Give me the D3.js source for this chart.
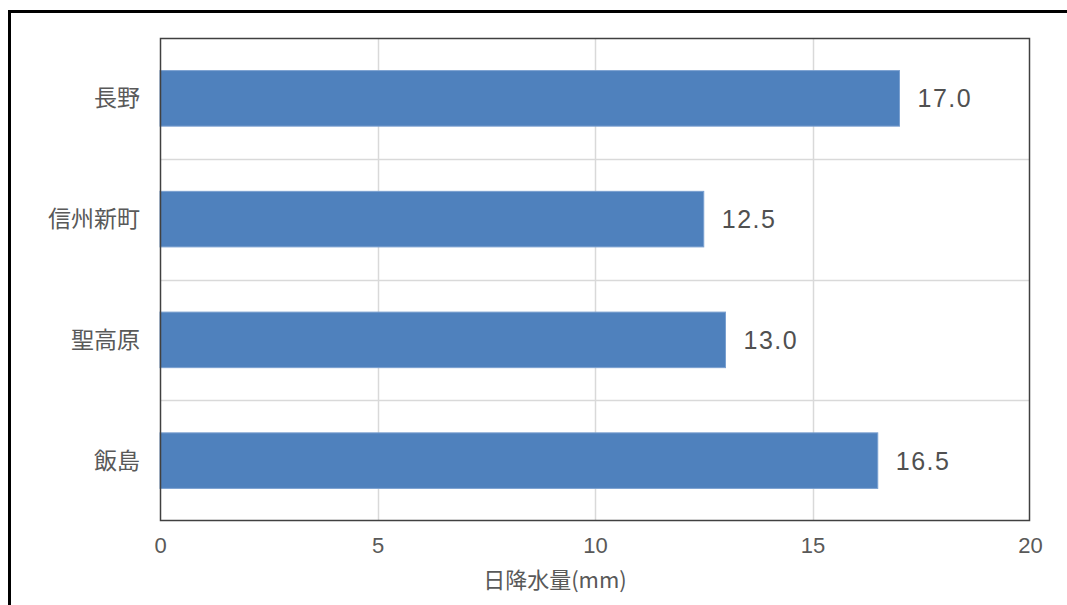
<!DOCTYPE html>
<html><head><meta charset="utf-8">
<script src="https://cdn.jsdelivr.net/npm/d3@7"></script>
<style>
html,body{margin:0;padding:0;background:#fff;}
svg{display:block;}
</style></head>
<body><svg id="chart" width="1067" height="605"></svg>
<script>
const categories = ["長野", "信州新町", "聖高原", "飯島"];
const values = [17.0, 12.5, 13.0, 16.5];
const xTicks = [0, 5, 10, 15, 20];
const xTitle = "日降水量(mm)";

const svg = d3.select("#chart");
const W = 1067, H = 605;
const plot = {left:160, top:38, right:1030, bottom:521};
const cjk = "'Noto Sans CJK JP', 'Noto Sans', sans-serif";
const num = "'Liberation Sans', 'Noto Sans', sans-serif";
const textColor = "#595959";

svg.append("rect").attr("width",W).attr("height",H).attr("fill","#fff");
// outer chart border
svg.append("rect").attr("x",9.5).attr("y",11.5).attr("width",1100).attr("height",700)
  .attr("fill","none").attr("stroke","#000").attr("stroke-width",3);

const x = d3.scaleLinear().domain([0,20]).range([plot.left, plot.right]);
const yBand = d3.scaleBand().domain(categories).range([plot.top, plot.bottom]).paddingInner(0.54).paddingOuter(0.27);
const yCat = d3.scaleBand().domain(categories).range([plot.top, plot.bottom]).padding(0);

// vertical gridlines
svg.append("g").selectAll("line").data(xTicks.filter(t=>t>0 && t<20)).join("line")
  .attr("x1",d=>Math.round(x(d))+0.5).attr("x2",d=>Math.round(x(d))+0.5)
  .attr("y1",plot.top).attr("y2",plot.bottom)
  .attr("stroke","#d9d9d9").attr("stroke-width",1.5);
// horizontal gridlines at category boundaries
svg.append("g").selectAll("line").data(categories.slice(1)).join("line")
  .attr("x1",plot.left).attr("x2",plot.right)
  .attr("y1",d=>Math.round(yCat(d))+0.5).attr("y2",d=>Math.round(yCat(d))+0.5)
  .attr("stroke","#d9d9d9").attr("stroke-width",1.5);

// bars
svg.append("g").selectAll("rect").data(categories).join("rect")
  .attr("x",x(0)).attr("y",d=>yBand(d))
  .attr("width",(d,i)=>x(values[i])-x(0)).attr("height",yBand.bandwidth())
  .attr("fill","#4f81bd").attr("stroke","#7aa0d0").attr("stroke-width",1);

// value labels
svg.append("g").selectAll("text").data(categories).join("text")
  .attr("x",(d,i)=>x(values[i])+18).attr("y",d=>yBand(d)+yBand.bandwidth()/2)
  .attr("dy","0.36em").attr("fill","#505050")
  .style("font-family",num).style("font-size","25px").style("letter-spacing","1.5px")
  .text((d,i)=>values[i].toFixed(1));

// plot frame
svg.append("rect").attr("x",plot.left+0.5).attr("y",plot.top+0.5)
  .attr("width",plot.right-plot.left-1).attr("height",plot.bottom-plot.top-1)
  .attr("fill","none").attr("stroke","#404040").attr("stroke-width",1.5);

// y axis labels
const yAxis = d3.axisLeft(yCat).tickSize(0).tickPadding(20);
const gy = svg.append("g").attr("transform",`translate(${plot.left},0)`).call(yAxis);
gy.select(".domain").remove();
gy.selectAll("text").attr("fill",textColor).style("font-family",cjk).style("font-size","23px").attr("dy","0.35em");

// x axis labels
const xAxis = d3.axisBottom(x).tickValues(xTicks).tickSize(0).tickPadding(16).tickFormat(d3.format("d"));
const gx = svg.append("g").attr("transform",`translate(0,${plot.bottom})`).call(xAxis);
gx.select(".domain").remove();
gx.selectAll("text").attr("fill",textColor).style("font-family",num).style("font-size","22px");

// x title
svg.append("text").attr("x",555).attr("y",580).attr("dy","0.35em")
  .attr("text-anchor","middle").attr("fill",textColor)
  .style("font-family",cjk).style("font-size","22px").text(xTitle);
</script></body></html>
